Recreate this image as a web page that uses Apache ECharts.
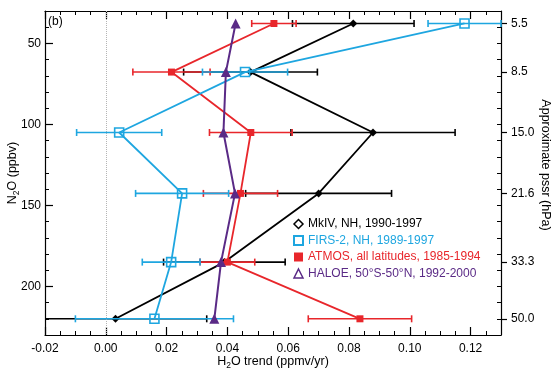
<!DOCTYPE html>
<html><head><meta charset="utf-8">
<script src="https://cdn.jsdelivr.net/npm/echarts@6/dist/echarts.min.js"></script>
<style>html,body{margin:0;padding:0;background:#fff}#c{width:551px;height:375px}</style>
</head><body><div id="c"></div>
<script>
// N2O levels (ppbv) of each measurement level, and matching approximate pressure (hPa)
const levels = [37.7, 67.7, 105, 142.6, 185, 220];
const pressureLabels = ['5.5', '8.5', '15.0', '21.6', '33.3', '50.0'];
const n2oTicks = [50, 100, 150, 200];
const xTickVals = [-0.02, 0, 0.02, 0.04, 0.06, 0.08, 0.10, 0.12];

const mkivNames = 'MkIV, NH, 1990-1997';
const mkivX = [0.0814, 0.0476, 0.0879, 0.0700, 0.0390, 0.0032];
const mkivErr = [0.020, 0.022, 0.027, 0.024, 0.020, 0.030];

const firsName = 'FIRS-2, NH, 1989-1997';
const firsX = [0.118, 0.0458, 0.0044, 0.0251, 0.0215, 0.0160];
const firsErr = [0.012, 0.014, 0.014, 0.0153, 0.0095, 0.026];

const atmosName = 'ATMOS, all latitudes, 1985-1994';
const atmosX = [0.0553, 0.0216, 0.0477, 0.0443, 0.0400, 0.0836];
const atmosErr = [0.0073, 0.0127, 0.0136, 0.0122, 0.0090, 0.017];

const haloeName = 'HALOE, 50\u00B0S-50\u00B0N, 1992-2000';
const haloeX = [0.0427, 0.0395, 0.0387, 0.0425, 0.0379, 0.0357];

const C_BLACK = '#000000', C_BLUE = '#1ea6e0', C_RED = '#e8262b', C_PURPLE = '#5a2a86';
const FONT = 'Liberation Sans, Arial, Helvetica, sans-serif';

function pts(xs) { return xs.map((x, i) => [x, levels[i]]); }

function errSeries(id, xs, errs, color, z) {
  return {
    type: 'custom', name: id, xAxisIndex: 0, yAxisIndex: 0, silent: true, z: z,
    data: xs.map((x, i) => [x - errs[i], x + errs[i], levels[i]]),
    encode: { x: [0, 1], y: 2 },
    renderItem: function (params, api) {
      const cs = params.coordSys;
      const lo = api.coord([api.value(0), api.value(2)]);
      const hi = api.coord([api.value(1), api.value(2)]);
      const xmin = cs.x, xmax = cs.x + cs.width;
      const x1 = Math.max(lo[0], xmin), x2 = Math.min(hi[0], xmax);
      const y = lo[1], h = 3.5;
      const st = { stroke: color, lineWidth: 1.6 };
      const ch = [{ type: 'line', shape: { x1: x1, y1: y, x2: x2, y2: y }, style: st }];
      if (lo[0] >= xmin) ch.push({ type: 'line', shape: { x1: lo[0], y1: y - h, x2: lo[0], y2: y + h }, style: st });
      if (hi[0] <= xmax + 0.5) ch.push({ type: 'line', shape: { x1: hi[0], y1: y - h, x2: hi[0], y2: y + h }, style: st });
      return { type: 'group', children: ch };
    }
  };
}

const chart = echarts.init(document.getElementById('c'), null, { renderer: 'canvas' });
const axisLine = { show: true, onZero: false, lineStyle: { color: '#000', width: 1.2 } };
const noLine = { show: false, onZero: false };
const baseX = { type: 'value', min: -0.02, max: 0.13, interval: 0.005, splitLine: { show: false }, axisLine: axisLine };
const baseY = { type: 'value', min: 30, max: 230, interval: 10, inverse: true, splitLine: { show: false }, axisLine: axisLine };
const minorTick = { show: true, inside: true, length: 4, lineStyle: { color: '#000', width: 1 } };
const majorTickX = { show: true, inside: true, length: 8, customValues: xTickVals, lineStyle: { color: '#000', width: 1.2 } };

const option = {
  backgroundColor: '#fff',
  animation: false,
  textStyle: { fontFamily: FONT },
  grid: { left: 45, right: 50, top: 11, bottom: 40, containLabel: false, outerBoundsMode: 'none' },
  xAxis: [
    Object.assign({}, baseX, {
      position: 'bottom', axisTick: minorTick,
      axisLabel: { customValues: xTickVals, margin: 8, color: '#000', fontSize: 12, fontFamily: FONT,
        formatter: v => v.toFixed(2) },
      name: '{a|H}{s|2}{a|O trend (ppmv/yr)}', nameLocation: 'middle', nameGap: 19, nameMoveOverlap: false,
      nameTextStyle: { verticalAlign: 'top', rich: {
        a: { fontSize: 12.5, color: '#000', fontFamily: FONT, lineHeight: 16 },
        s: { fontSize: 8.5, color: '#000', fontFamily: FONT, lineHeight: 8, verticalAlign: 'bottom' } } }
    }),
    Object.assign({}, baseX, { position: 'bottom', axisLine: noLine, axisTick: majorTickX, axisLabel: { show: false } }),
    Object.assign({}, baseX, { position: 'top', axisTick: minorTick, axisLabel: { show: false } }),
    Object.assign({}, baseX, { position: 'top', axisLine: noLine, axisTick: majorTickX, axisLabel: { show: false } })
  ],
  yAxis: [
    Object.assign({}, baseY, {
      position: 'left', axisTick: minorTick,
      axisLabel: { customValues: n2oTicks, margin: 4, color: '#000', fontSize: 12, fontFamily: FONT },
      name: '{a|N}{s|2}{a|O (ppbv)}', nameLocation: 'middle', nameGap: 24, nameRotate: 90, nameMoveOverlap: false,
      nameTextStyle: { verticalAlign: 'bottom', rich: {
        a: { fontSize: 12.5, color: '#000', fontFamily: FONT, lineHeight: 16 },
        s: { fontSize: 8.5, color: '#000', fontFamily: FONT, lineHeight: 8, verticalAlign: 'bottom' } } }
    }),
    Object.assign({}, baseY, { position: 'left', axisLine: noLine,
      axisTick: { show: true, inside: true, length: 8, customValues: n2oTicks, lineStyle: { color: '#000', width: 1.2 } },
      axisLabel: { show: false } }),
    Object.assign({}, baseY, { position: 'right', axisTick: minorTick, axisLabel: { show: false } }),
    Object.assign({}, baseY, { position: 'right', axisLine: noLine,
      axisTick: { show: true, inside: false, length: 6, customValues: levels, lineStyle: { color: '#000', width: 1.2 } },
      axisLabel: { customValues: levels, margin: 10, color: '#000', fontSize: 12, fontFamily: FONT,
        formatter: v => { const i = levels.indexOf(v); return i >= 0 ? pressureLabels[i] : ''; } } })
  ],
  legend: {
    orient: 'vertical', left: 288, top: 213, itemWidth: 9, itemHeight: 9, itemGap: 4.5,
    textStyle: { fontSize: 12, fontFamily: FONT },
    data: [
      { name: mkivNames, icon: 'diamond', itemStyle: { color: '#fff', borderColor: C_BLACK, borderWidth: 1.5 }, textStyle: { color: C_BLACK } },
      { name: firsName, icon: 'rect', itemStyle: { color: '#fff', borderColor: C_BLUE, borderWidth: 2 }, textStyle: { color: C_BLUE } },
      { name: atmosName, icon: 'rect', itemStyle: { color: C_RED, borderWidth: 0 }, textStyle: { color: C_RED } },
      { name: haloeName, icon: 'triangle', itemStyle: { color: '#fff', borderColor: C_PURPLE, borderWidth: 1.5 }, textStyle: { color: C_PURPLE } }
    ]
  },
  graphic: [
    { type: 'text', left: 48, top: 16, style: { text: '(b)', fontSize: 12, fontFamily: FONT, fill: '#000' } },
    { type: 'text', x: 545, y: 165, rotation: -Math.PI / 2,
      style: { text: 'Approximate pssr (hPa)', fontSize: 12.5, fontFamily: FONT, fill: '#000', align: 'center', verticalAlign: 'middle' } }
  ],
  series: [
    errSeries('mkiv-err', mkivX, mkivErr, C_BLACK, 2),
    {
      type: 'line', name: mkivNames, data: pts(mkivX), z: 3,
      symbol: 'diamond', symbolSize: 8, itemStyle: { color: C_BLACK },
      lineStyle: { color: C_BLACK, width: 1.8 },
      markLine: { silent: true, symbol: 'none', label: { show: false },
        lineStyle: { type: 'dotted', color: '#b5b5b5', width: 1 }, data: [{ xAxis: 0 }] }
    },
    errSeries('atmos-err', atmosX, atmosErr, C_RED, 4),
    {
      type: 'line', name: atmosName, data: pts(atmosX), z: 5,
      symbol: 'rect', symbolSize: 7, itemStyle: { color: C_RED },
      lineStyle: { color: C_RED, width: 1.8 }
    },
    errSeries('firs-err', firsX, firsErr, C_BLUE, 6),
    {
      type: 'line', name: firsName, data: pts(firsX), z: 7,
      symbol: 'rect', symbolSize: 9, itemStyle: { color: 'rgba(255,255,255,0)', borderColor: C_BLUE, borderWidth: 1.6 },
      lineStyle: { color: C_BLUE, width: 1.8 }
    },
    {
      type: 'line', name: haloeName, data: pts(haloeX), z: 8,
      symbol: 'triangle', symbolSize: 10, itemStyle: { color: C_PURPLE },
      lineStyle: { color: C_PURPLE, width: 2 }
    }
  ]
};
chart.setOption(option);
</script>
</body></html>
